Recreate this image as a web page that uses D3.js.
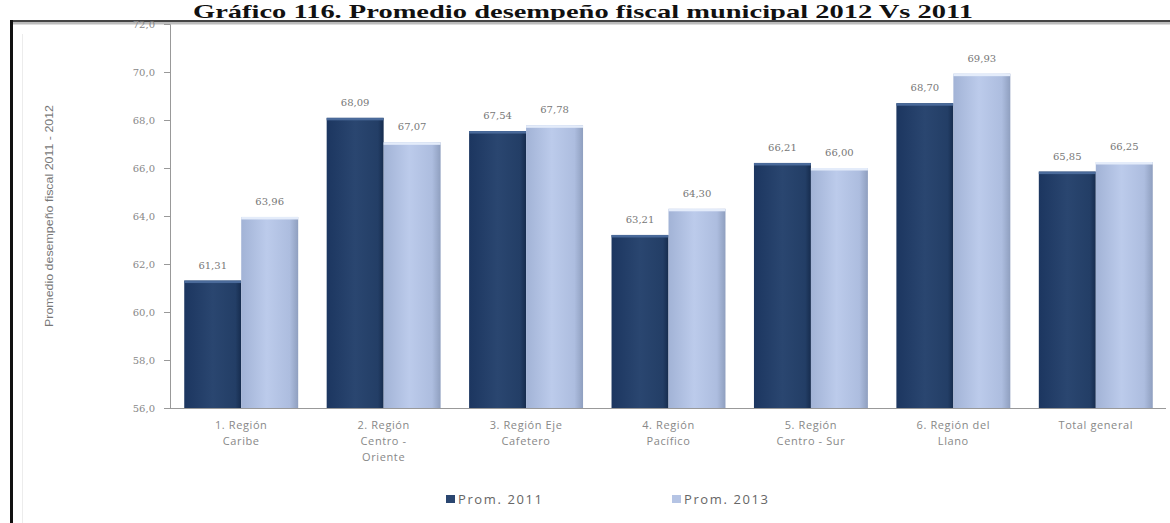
<!DOCTYPE html>
<html><head><meta charset="utf-8">
<script src="https://cdn.jsdelivr.net/npm/d3@7"></script>
<style>body{margin:0;background:#fff;overflow:hidden}svg{display:block}</style>
</head><body>
<svg id="c" width="1170" height="523"></svg>
<script>
const titleText = "Gráfico 116. Promedio desempeño fiscal municipal 2012 Vs 2011";
const yTitle = "Promedio desempeño fiscal 2011 - 2012";
const categories = [
  ["1. Región","Caribe"],
  ["2. Región","Centro -","Oriente"],
  ["3. Región Eje","Cafetero"],
  ["4. Región","Pacífico"],
  ["5. Región","Centro - Sur"],
  ["6. Región del","Llano"],
  ["Total general"]
];
const seriesNames = ["Prom. 2011","Prom. 2013"];
const prom2011 = [61.31, 68.09, 67.54, 63.21, 66.21, 68.70, 65.85];
const prom2013 = [63.96, 67.07, 67.78, 64.30, 66.00, 69.93, 66.25];
const yTicks = [56,58,60,62,64,66,68,70,72];

const svg = d3.select("#c");
const defs = svg.append("defs");
function grad(id, stops){
  const g = defs.append("linearGradient").attr("id",id).attr("x1","0").attr("x2","1").attr("y1","0").attr("y2","0");
  stops.forEach(s=>g.append("stop").attr("offset",s[0]).attr("stop-color",s[1]));
}
grad("gDark",[[0,"#1c3660"],[0.5,"#2a4670"],[0.9,"#233e66"],[1,"#162c4e"]]);
grad("gLight",[[0,"#a2b3d6"],[0.45,"#bccbeb"],[0.85,"#adbddf"],[1,"#8f9fbf"]]);
const fills = ["url(#gDark)","url(#gLight)"];
const capFills = ["#4a6a9a","#e4ecfa"];

// Title
svg.append("text").attr("x",583).attr("y",18).attr("text-anchor","middle")
  .attr("font-family","Liberation Serif, serif").attr("font-weight","bold").attr("font-size",19)
  .attr("textLength",780).attr("lengthAdjust","spacingAndGlyphs")
  .attr("fill","#111").text(titleText);

// Frame
svg.append("line").attr("x1",22.5).attr("x2",22.5).attr("y1",34).attr("y2",523).attr("stroke","#ececec");
svg.append("line").attr("x1",10).attr("x2",1170).attr("y1",23).attr("y2",23).attr("stroke","#bbb").attr("stroke-width",3);
svg.append("line").attr("x1",10).attr("x2",1170).attr("y1",21).attr("y2",21).attr("stroke","#444").attr("stroke-width",2);
svg.append("line").attr("x1",11.5).attr("x2",11.5).attr("y1",20).attr("y2",523).attr("stroke","#111").attr("stroke-width",3);

const y = d3.scaleLinear().domain([56,72]).range([408,24]);
const x0 = d3.scaleBand().domain(d3.range(categories.length)).range([170,1167]).paddingInner(0.2).paddingOuter(0.1);
const x1 = d3.scaleBand().domain(seriesNames).range([0,x0.bandwidth()]);

// Y axis
const yAxis = svg.append("g").attr("transform","translate(170,0)")
  .call(d3.axisLeft(y).tickValues(yTicks).tickSize(6).tickFormat(d=>d3.format(".1f")(d).replace(".",",")));
yAxis.select(".domain").attr("stroke","#999");
yAxis.selectAll(".tick line").attr("stroke","#999");
yAxis.selectAll(".tick text").attr("fill","#888").attr("font-size",10).attr("font-family","DejaVu Serif, serif").attr("x",-15);

svg.append("text").attr("transform","translate(53,216) rotate(-90)").attr("text-anchor","middle")
  .attr("font-family","Liberation Sans Narrow, Liberation Sans, sans-serif").attr("font-size",11)
  .attr("fill","#777").attr("textLength",222).attr("lengthAdjust","spacingAndGlyphs").text(yTitle);

// X axis line
svg.append("line").attr("x1",170).attr("x2",1166).attr("y1",408.5).attr("y2",408.5).attr("stroke","#999");

const data = categories.map((c,i)=>({i, vals:[prom2011[i],prom2013[i]]}));
const groups = svg.selectAll("g.grp").data(data).join("g").attr("class","grp")
  .attr("transform",d=>`translate(${x0(d.i)},0)`);

groups.each(function(d){
  const g = d3.select(this);
  d.vals.forEach((v,k)=>{
    const bx = x1(seriesNames[k]), bw = x1.bandwidth();
    g.append("rect").attr("x",bx).attr("y",y(v)).attr("width",bw).attr("height",y(56)-y(v)).attr("fill",fills[k]);
    g.append("rect").attr("x",bx).attr("y",y(v)).attr("width",bw).attr("height",2.5).attr("fill",capFills[k]);
    g.append("text").attr("x",bx+bw/2).attr("y",y(v)-12).attr("text-anchor","middle")
      .attr("font-family","DejaVu Serif, serif").attr("font-size",10).attr("fill","#777")
      .text(d3.format(".2f")(v).replace(".",","));
  });
});

// X labels
categories.forEach((lines,i)=>{
  const t = svg.append("text").attr("text-anchor","middle")
    .attr("font-family","Open Sans, DejaVu Sans, sans-serif").attr("font-size",11).attr("fill","#888")
    .attr("letter-spacing",0.6);
  lines.forEach((l,j)=>t.append("tspan").attr("x",x0(i)+x0.bandwidth()/2).attr("y",429+j*16).text(l));
});

// Legend
const legX = [446,672];
seriesNames.forEach((s,k)=>{
  svg.append("rect").attr("x",legX[k]).attr("y",495).attr("width",9).attr("height",8).attr("fill",k?"#b5c4e4":"#2a4670");
  svg.append("text").attr("x",legX[k]+12).attr("y",504).attr("font-family","Open Sans, DejaVu Sans, sans-serif")
    .attr("font-size",13).attr("fill","#666").attr("letter-spacing",1.6).text(s);
});
</script>
</body></html>
